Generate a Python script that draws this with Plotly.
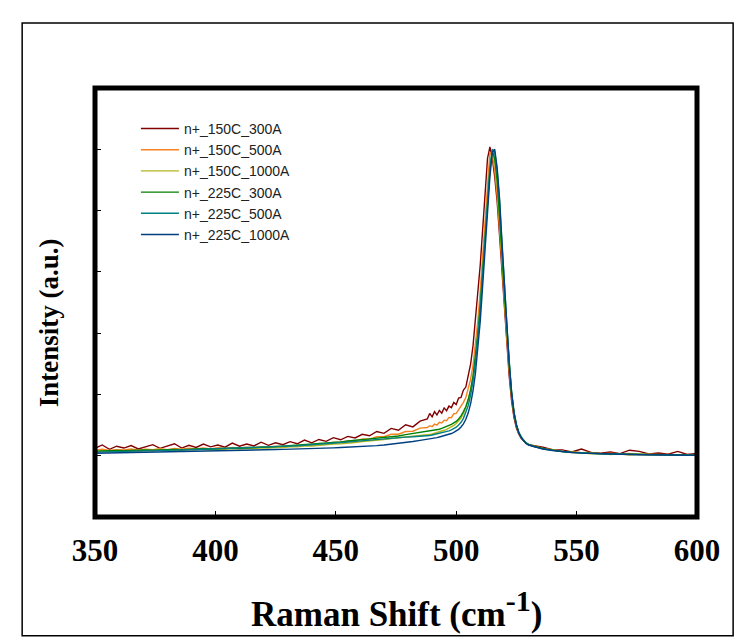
import plotly.graph_objects as go

# ---- shared Raman shift grid (cm^-1) ----
x_vals = [350, 353, 356, 359, 362, 365, 368, 371, 374, 377, 380, 383, 386, 389, 392, 395,
          398, 401, 404, 407, 410, 413, 416, 419, 422, 425, 428, 431, 434, 437, 440, 443,
          446, 449, 452, 455, 458, 461, 464, 467, 470, 473, 476, 479, 482, 485,
          488, 489, 490, 491, 492, 493, 494, 495, 496, 497, 498, 499, 500, 501, 502, 503,
          504, 505, 506, 507, 508, 509, 510, 511, 512, 513, 514, 515, 516, 517, 518, 519,
          520, 521, 522, 523, 524, 525, 526, 527, 528, 529, 530,
          532, 536, 540, 544, 548, 552, 556, 560, 564, 568, 572, 576, 580, 584, 588, 592, 596, 600]

# ---- series values (a.u.) ----
n150_300 = [120, 175, 105, 155, 125, 165, 110, 150, 180, 120, 155, 195, 125, 170, 135, 190,
            145, 175, 140, 205, 155, 190, 160, 220, 170, 210, 180, 230, 195, 255, 210, 265,
            235, 295, 260, 315, 290, 350, 325, 395, 365, 445, 415, 505, 470, 565,
            600, 690, 635, 720, 665, 740, 695, 780, 735, 810, 785, 870, 835, 940, 950, 1070,
            1120, 1320, 1500, 1800, 2200, 2620, 3120, 3700, 4350, 4850, 5040, 4850, 4550, 4150, 3600, 3000,
            2400, 1850, 1300, 900, 620, 450, 350, 285, 240, 205, 180,
            170, 140, 100, 95, 60, 110, 55, 40, 60, 35, 90, 70, 30, 45, 25, 70, 20, 35]

n150_500 = [90, 105, 85, 100, 95, 110, 92, 105, 98, 115, 100, 118, 105, 122, 110, 125,
            112, 130, 118, 135, 125, 140, 130, 148, 138, 155, 145, 165, 158, 180, 172, 198,
            190, 220, 215, 245, 240, 275, 270, 310, 310, 350, 350, 395, 400, 450,
            460, 490, 475, 515, 500, 545, 535, 580, 570, 625, 620, 685, 690, 750, 790, 870,
            950, 1080, 1250, 1480, 1800, 2200, 2700, 3250, 3850, 4450, 4950, 4900, 4650, 4250, 3750, 3150,
            2550, 1950, 1420, 990, 680, 490, 370, 295, 245, 210, 185,
            160, 120, 95, 70, 65, 50, 55, 30, 40, 28, 35, 20, 28, 15, 22, 12, 20, 10]

n150_1000 = [65, 78, 70, 80, 74, 84, 78, 88, 82, 92, 86, 96, 90, 100, 95, 105,
             100, 110, 104, 115, 110, 120, 116, 128, 124, 136, 133, 146, 144, 158, 158, 172,
             174, 190, 193, 210, 215, 232, 240, 258, 265, 280, 290, 300, 310, 325,
             335, 345, 355, 365, 375, 385, 400, 415, 430, 450, 470, 495, 525, 565, 615, 690,
             780, 900, 1070, 1300, 1620, 2020, 2500, 3050, 3650, 4200, 4700, 4950, 4800, 4450, 3900, 3250,
             2600, 2000, 1450, 1000, 690, 495, 372, 298, 243, 208, 183,
             155, 115, 88, 72, 50, 48, 32, 38, 20, 30, 12, 25, 10, 20, 8, 16, 5, 14]

n225_300 = [75, 82, 78, 86, 82, 90, 86, 94, 90, 98, 95, 103, 100, 108, 105, 113,
            110, 118, 116, 124, 122, 130, 130, 138, 140, 148, 150, 160, 163, 175, 180, 193,
            200, 215, 225, 242, 252, 262, 272, 280, 290, 305, 322, 345, 362, 380,
            395, 402, 408, 415, 422, 432, 445, 460, 475, 490, 510, 535, 560, 600, 650, 720,
            800, 920, 1080, 1300, 1600, 1980, 2450, 3000, 3600, 4150, 4650, 4980, 4850, 4500, 3950, 3300,
            2650, 2050, 1480, 1020, 700, 500, 375, 300, 245, 210, 185,
            158, 118, 92, 68, 58, 44, 40, 33, 30, 24, 22, 18, 17, 14, 13, 11, 10, 9]

n225_500 = [58, 62, 64, 68, 70, 74, 76, 80, 82, 86, 88, 92, 94, 98, 100, 104,
            106, 110, 112, 117, 120, 125, 128, 134, 138, 144, 149, 156, 162, 170, 177, 186,
            194, 204, 213, 224, 234, 245, 256, 267, 278, 288, 296, 303, 309, 315,
            320, 330, 338, 346, 355, 363, 372, 382, 393, 405, 420, 440, 465, 500, 545, 610,
            700, 820, 990, 1220, 1530, 1920, 2400, 2980, 3600, 4180, 4700, 5000, 4950, 4650, 4150, 3450,
            2780, 2120, 1520, 1050, 720, 510, 380, 300, 245, 210, 185,
            152, 112, 87, 66, 54, 43, 37, 31, 27, 23, 20, 17, 15, 13, 11, 10, 9, 8]

n225_1000 = [40, 42, 45, 46, 50, 52, 55, 56, 60, 62, 64, 67, 70, 71, 74, 76,
             79, 81, 84, 86, 89, 91, 94, 96, 99, 101, 104, 106, 110, 113, 117, 120,
             124, 128, 133, 138, 144, 150, 157, 165, 175, 186, 199, 214, 231, 250,
             265, 272, 280, 288, 296, 305, 314, 324, 335, 348, 362, 380, 402, 430, 468, 520,
             595, 700, 850, 1060, 1350, 1720, 2200, 2780, 3400, 4000, 4550, 4950, 5000, 4700, 4200, 3500,
             2800, 2100, 1500, 1030, 700, 500, 370, 290, 235, 200, 175,
             150, 110, 85, 65, 52, 42, 35, 30, 25, 22, 19, 16, 14, 12, 10, 9, 8, 7]

series_names = ["n+_150C_300A", "n+_150C_500A", "n+_150C_1000A",
                "n+_225C_300A", "n+_225C_500A", "n+_225C_1000A"]
series_values = [n150_300, n150_500, n150_1000, n225_300, n225_500, n225_1000]
series_colors = ["#800000", "#f58220", "#b4b41e", "#008000", "#008080", "#003f80"]

x_ticks = [350, 400, 450, 500, 550, 600]
y_ticks = [0, 1000, 2000, 3000, 4000, 5000]

fig = go.Figure()
for name, vals, col in zip(series_names, series_values, series_colors):
    fig.add_trace(go.Scatter(x=x_vals, y=vals, mode="lines", name=name,
                             line=dict(color=col, width=1.4)))

serif_bold = dict(family="Liberation Serif, Times New Roman, serif", color="black", weight="bold")

fig.update_layout(
    width=740, height=636,
    margin=dict(l=87, r=51, t=80, b=127),
    paper_bgcolor="white", plot_bgcolor="white",
    showlegend=True,
    legend=dict(x=0.068, y=0.942, xanchor="left", yanchor="top",
                bgcolor="rgba(0,0,0,0)", borderwidth=0,
                font=dict(family="Liberation Sans, Arial, sans-serif", size=14, color="#222"),
                tracegroupgap=0, itemwidth=38),
    xaxis=dict(range=[350, 600], tickvals=x_ticks, ticktext=[str(v) for v in x_ticks],
               ticks="inside", ticklen=6, tickwidth=1, tickcolor="black",
               showgrid=False, zeroline=False, showline=False,
               tickfont=dict(size=31, **serif_bold), ticklabelstandoff=12),
    yaxis=dict(range=[-1000, 6000], tickvals=y_ticks, showticklabels=False,
               ticks="inside", ticklen=6, tickwidth=1, tickcolor="black",
               showgrid=False, zeroline=False, showline=False),
    shapes=[
        dict(type="rect", xref="paper", yref="paper", x0=0, x1=1, y0=0, y1=1,
             line=dict(color="black", width=5), layer="above"),
        dict(type="rect", xref="paper", yref="paper", x0=-0.121, x1=1.06, y0=-0.277, y1=1.1515,
             line=dict(color="black", width=1.5), layer="above"),
    ],
    annotations=[
        dict(text="Intensity (a.u.)", xref="paper", yref="paper", x=-0.076, y=0.452,
             xanchor="center", yanchor="middle",
             textangle=-90, showarrow=False, font=dict(size=27, **serif_bold)),
        dict(text="Raman Shift (cm<sup><span style='font-size:30px'>-1</span></sup>)",
             xref="paper", yref="paper", x=0.5, y=-0.215,
             xanchor="center", yanchor="middle",
             showarrow=False, font=dict(size=35, **serif_bold)),
    ],
)

fig.write_html("out.html")
